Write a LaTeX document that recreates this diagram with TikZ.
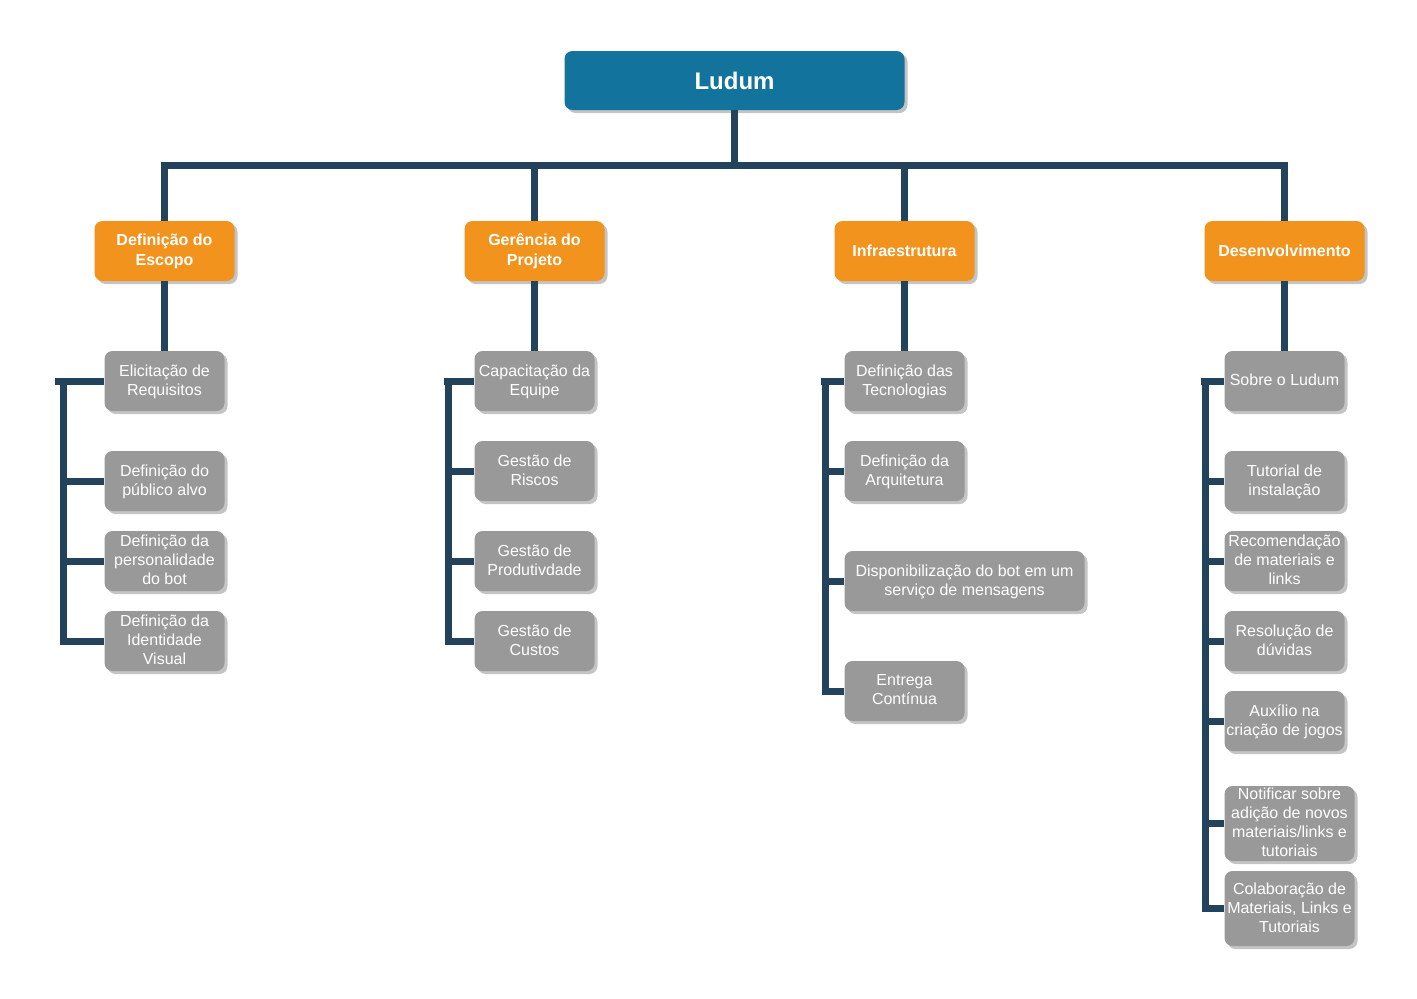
\documentclass[tikz,border=0pt]{standalone}
\usepackage{fontspec}
\setmainfont{Liberation Sans}
\usetikzlibrary{shadows}
\definecolor{rootblue}{HTML}{12739C}
\definecolor{phaseorange}{HTML}{F2931E}
\definecolor{taskgray}{HTML}{999999}
\definecolor{linknavy}{HTML}{22435B}
\definecolor{shadowgray}{HTML}{C4C4C4}
\begin{document}
\begin{tikzpicture}[x=1pt,y=-1pt,
  boxbase/.style={rounded corners=8pt, text=white, align=center, inner sep=0pt,
    drop shadow={shadow xshift=3pt, shadow yshift=-3pt, fill=shadowgray, opacity=1}},
  rootbox/.style={boxbase, fill=rootblue, minimum width=340pt, minimum height=59pt,
    font=\fontsize{24}{28}\selectfont\bfseries},
  phasebox/.style={boxbase, fill=phaseorange, minimum width=140pt, minimum height=60pt,
    font=\fontsize{16}{20}\selectfont\bfseries},
  taskbox/.style={boxbase, fill=taskgray, minimum width=120pt, minimum height=60pt,
    font=\fontsize{16}{19}\selectfont, text depth=2.5pt},
  link/.style={draw=linknavy, line width=7pt, line join=miter}
]
\useasboundingbox (0,0) rectangle (1417,999);

% root and phases
\node[rootbox] (root) at (734.5,80.5) {Ludum};
\node[phasebox] (p1) at (164.5,251) {Definição do\\Escopo};
\node[phasebox] (p2) at (534.5,251) {Gerência do\\Projeto};
\node[phasebox] (p3) at (904.5,251) {Infraestrutura};
\node[phasebox, minimum width=160pt] (p4) at (1284.5,251) {Desenvolvimento};

% column 1
\node[taskbox] (a1) at (164.5,381) {Elicitação de\\Requisitos};
\node[taskbox] (a2) at (164.5,481) {Definição do\\público alvo};
\node[taskbox] (a3) at (164.5,561) {Definição da\\personalidade\\do bot};
\node[taskbox] (a4) at (164.5,641) {Definição da\\Identidade\\Visual};

% column 2
\node[taskbox] (b1) at (534.5,381) {Capacitação da\\Equipe};
\node[taskbox] (b2) at (534.5,471) {Gestão de\\Riscos};
\node[taskbox] (b3) at (534.5,561) {Gestão de\\Produtivdade};
\node[taskbox] (b4) at (534.5,641) {Gestão de\\Custos};

% column 3
\node[taskbox] (c1) at (904.5,381) {Definição das\\Tecnologias};
\node[taskbox] (c2) at (904.5,471) {Definição da\\Arquitetura};
\node[taskbox, minimum width=240pt] (c3) at (964.5,581) {Disponibilização do bot em um\\serviço de mensagens};
\node[taskbox] (c4) at (904.5,691) {Entrega\\Contínua};

% column 4
\node[taskbox] (d1) at (1284.5,381) {Sobre o Ludum};
\node[taskbox] (d2) at (1284.5,481) {Tutorial de\\instalação};
\node[taskbox] (d3) at (1284.5,561) {Recomendação\\de materiais e\\links};
\node[taskbox] (d4) at (1284.5,641) {Resolução de\\dúvidas};
\node[taskbox] (d5) at (1284.5,721) {Auxílio na\\criação de jogos};
\node[taskbox, minimum width=130pt, minimum height=75pt] (d6) at (1289.5,823.5) {Notificar sobre\\adição de novos\\materiais/links e\\tutoriais};
\node[taskbox, minimum width=130pt, minimum height=75pt] (d7) at (1289.5,908.5) {Colaboração de\\Materiais, Links e\\Tutoriais};

% connectors: root to phases
\coordinate (hub) at (734.5,165);
\path[link] (root.south) -- (hub);
\path[link] (p1.north) |- (hub) -| (p4.north);
\path[link] (p2.north) -- (p2.north |- hub);
\path[link] (p3.north) -- (p3.north |- hub);

% phases to first tasks
\path[link] (p1.south) -- (a1.north);
\path[link] (p2.south) -- (b1.north);
\path[link] (p3.south) -- (c1.north);
\path[link] (p4.south) -- (d1.north);

% task brackets
\coordinate (ra) at (63,381);
\coordinate (sa) at (55,381);
\path[link] (sa) -- (a1.west);
\path[link] (ra) |- (a4.west);
\path[link] (ra |- a2) -- (a2.west);
\path[link] (ra |- a3) -- (a3.west);

\coordinate (rb) at (448,381);
\coordinate (sb) at (444,381);
\path[link] (sb) -- (b1.west);
\path[link] (rb) |- (b4.west);
\path[link] (rb |- b2) -- (b2.west);
\path[link] (rb |- b3) -- (b3.west);

\coordinate (rc) at (825,381);
\coordinate (sc) at (821,381);
\path[link] (sc) -- (c1.west);
\path[link] (rc) |- (c4.west);
\path[link] (rc |- c2) -- (c2.west);
\path[link] (rc |- c3) -- (c3.west);

\coordinate (rd) at (1205,381);
\coordinate (sd) at (1201,381);
\path[link] (sd) -- (d1.west);
\path[link] (rd) |- (d7.west);
\path[link] (rd |- d2) -- (d2.west);
\path[link] (rd |- d3) -- (d3.west);
\path[link] (rd |- d4) -- (d4.west);
\path[link] (rd |- d5) -- (d5.west);
\path[link] (rd |- d6) -- (d6.west);
\end{tikzpicture}
\end{document}
